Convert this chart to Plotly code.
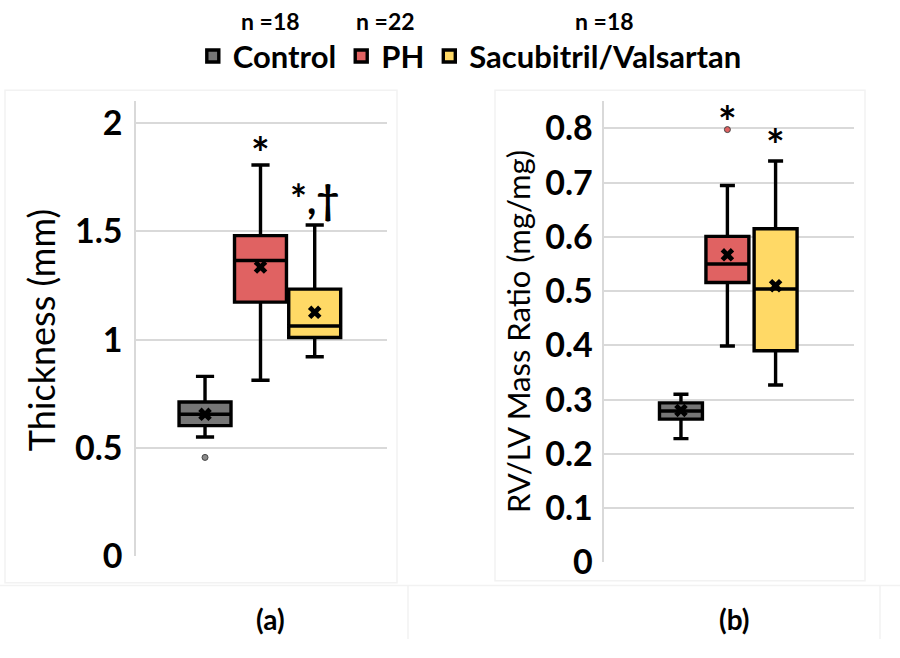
import plotly.graph_objects as go

# ---- data -------------------------------------------------------------
groups = ["Control", "PH", "Sacubitril/Valsartan"]
n_labels = ["n =18", "n =22", "n =18"]
fills = ["#767676", "#e06262", "#ffd966"]

# (a) RV wall thickness (mm): box statistics per group
thick_q1 = [0.603, 1.173, 1.010]
thick_median = [0.655, 1.365, 1.063]
thick_q3 = [0.712, 1.480, 1.233]
thick_low = [0.550, 0.812, 0.921]
thick_high = [0.830, 1.806, 1.529]
thick_mean = [0.655, 1.335, 1.126]
thick_outliers = [[0.456], [], []]
thick_sig = ["", "*", "*,\u2020"]
thick_sig_y = [None, 1.864, 1.648]
thick_sig_size = [44, 44, 40]

# (b) RV/LV mass ratio (mg/mg)
ratio_q1 = [0.264, 0.516, 0.390]
ratio_median = [0.279, 0.550, 0.504]
ratio_q3 = [0.294, 0.601, 0.615]
ratio_low = [0.228, 0.399, 0.327]
ratio_high = [0.310, 0.695, 0.740]
ratio_mean = [0.280, 0.567, 0.510]
ratio_outliers = [[], [0.798], []]
ratio_sig = ["", "*", "*"]
ratio_sig_y = [None, 0.813, 0.772]
ratio_sig_size = [44, 44, 44]

thick_ticks = [0, 0.5, 1, 1.5, 2]
ratio_ticks = [0, 0.1, 0.2, 0.3, 0.4, 0.5, 0.6, 0.7, 0.8]

# ---- layout helpers ----------------------------------------------------
W, H = 900, 658
FONT = "Lato"
pos_a = [0.275, 0.496, 0.712]
pos_b = [0.307, 0.493, 0.686]
width_a, width_b = 0.207, 0.172
outlier_colors = ["#8a8a8a", "#e06262", "#ffd966"]

fig = go.Figure()


def add_panel(xa, ya, pos, width, q1, med, q3, lo, hi, mean, outl, sig, sig_y,
              sig_size, legend):
    for i, g in enumerate(groups):
        fig.add_trace(go.Box(
            x=[pos[i]], q1=[q1[i]], median=[med[i]], q3=[q3[i]],
            lowerfence=[lo[i]], upperfence=[hi[i]],
            width=width, whiskerwidth=0.35,
            fillcolor=fills[i], line=dict(color="black", width=3.4),
            boxpoints=False, name=g, showlegend=legend,
            xaxis=xa, yaxis=ya, hoverinfo="skip",
        ))
    fig.add_trace(go.Scatter(
        x=pos, y=mean, mode="markers", xaxis=xa, yaxis=ya, showlegend=False,
        marker=dict(symbol="x", size=12, color="black", line=dict(width=0)),
        hoverinfo="skip",
    ))
    ox, oy, oc = [], [], []
    for i, vals in enumerate(outl):
        for v in vals:
            ox.append(pos[i]); oy.append(v); oc.append(outlier_colors[i])
    fig.add_trace(go.Scatter(
        x=ox, y=oy, mode="markers", xaxis=xa, yaxis=ya, showlegend=False,
        marker=dict(symbol="circle", size=6, color=oc,
                    line=dict(color="#444444", width=1)),
        hoverinfo="skip",
    ))
    for i, s in enumerate(sig):
        if s:
            fig.add_annotation(
                x=pos[i], y=sig_y[i], xref=xa, yref=ya, text=s,
                showarrow=False, xanchor="center", yanchor="middle",
                font=dict(family=FONT, size=sig_size[i], color="black",
                          weight="bold"),
            )


add_panel("x", "y", pos_a, width_a, thick_q1, thick_median, thick_q3,
          thick_low, thick_high, thick_mean, thick_outliers, thick_sig,
          thick_sig_y, thick_sig_size, True)
add_panel("x2", "y2", pos_b, width_b, ratio_q1, ratio_median, ratio_q3,
          ratio_low, ratio_high, ratio_mean, ratio_outliers, ratio_sig,
          ratio_sig_y, ratio_sig_size, False)

grid = "#d9d9d9"
xcommon = dict(range=[0, 1], showgrid=False, showticklabels=False,
               zeroline=False, showline=False, ticks="", fixedrange=True)
ycommon = dict(showgrid=True, gridcolor=grid, gridwidth=1.5, zeroline=False,
               showline=True, linecolor=grid, linewidth=1.5, ticks="",
               tickfont=dict(family=FONT, size=34, color="black", weight="bold"))

fig.update_layout(
    width=W, height=H,
    margin=dict(l=0, r=0, t=0, b=0),
    paper_bgcolor="white", plot_bgcolor="white",
    xaxis=dict(domain=[136 / W, 387 / W], anchor="y", **xcommon),
    yaxis=dict(domain=[1 - 572.7 / H, 1 - 104.4 / H], anchor="x",
               range=[0, 2.1], tickvals=thick_ticks,
               ticktext=[f"{t:g}" for t in thick_ticks],
               ticklabelstandoff=5, **ycommon),
    xaxis2=dict(domain=[604.3 / W, 854 / W], anchor="y2", **xcommon),
    yaxis2=dict(domain=[1 - 579 / H, 1 - 104.4 / H], anchor="x2",
                range=[0, 0.85], tickvals=ratio_ticks,
                ticktext=[f"{t:g}" for t in ratio_ticks],
                ticklabelstandoff=3, **ycommon),
    legend=dict(orientation="h", x=0.522, xanchor="center", y=1 - 58 / H,
                yanchor="middle", bgcolor="rgba(0,0,0,0)",
                font=dict(family=FONT, size=31, color="black", weight="bold"),
                itemwidth=30, tracegroupgap=0),
    showlegend=True,
)

# sample sizes above the legend
for txt, xp in zip(n_labels, [270, 385.5, 604]):
    fig.add_annotation(x=xp / W, y=1 - 22 / H, xref="paper", yref="paper",
                       text=txt, showarrow=False, xanchor="center",
                       yanchor="middle",
                       font=dict(family=FONT, size=23, color="black",
                                 weight="bold"))

# axis titles
fig.add_annotation(x=41 / W, y=1 - 340 / H, xref="paper", yref="paper",
                   text="Thickness (mm)", textangle=-90, showarrow=False,
                   xanchor="center", yanchor="middle",
                   font=dict(family=FONT, size=36, color="black"))
fig.add_annotation(x=518 / W, y=1 - 342 / H, xref="paper", yref="paper",
                   text="RV/LV Mass Ratio (mg/mg)", textangle=-90,
                   showarrow=False, xanchor="center", yanchor="middle",
                   font=dict(family=FONT, size=31, color="black"))

# panel labels
for txt, xp in [("(a)", 270), ("(b)", 734)]:
    fig.add_annotation(x=xp / W, y=1 - 637 / H, xref="paper", yref="paper",
                       text=txt, showarrow=False, xanchor="center",
                       yanchor="middle",
                       font=dict(family=FONT, size=28, color="black",
                                 weight="bold"))

# faint chart-area frames
frame = "#f2f2f2"
for x0, y0, x1, y1 in [(5, 93, 397, 600), (495, 93, 865, 598)]:
    fig.add_shape(type="rect", xref="paper", yref="paper",
                  x0=x0 / W, x1=x1 / W, y0=1 - y1 / H, y1=1 - y0 / H,
                  line=dict(color=frame, width=1.5), layer="below")
fig.add_shape(type="line", xref="paper", yref="paper",
              x0=0, x1=1, y0=1 - 603 / H, y1=1 - 603 / H,
              line=dict(color=frame, width=1.5), layer="below")
for xv in [408, 880]:
    fig.add_shape(type="line", xref="paper", yref="paper",
                  x0=xv / W, x1=xv / W, y0=0, y1=1 - 603 / H,
                  line=dict(color=frame, width=1.5), layer="below")

fig.write_html("out.html")
